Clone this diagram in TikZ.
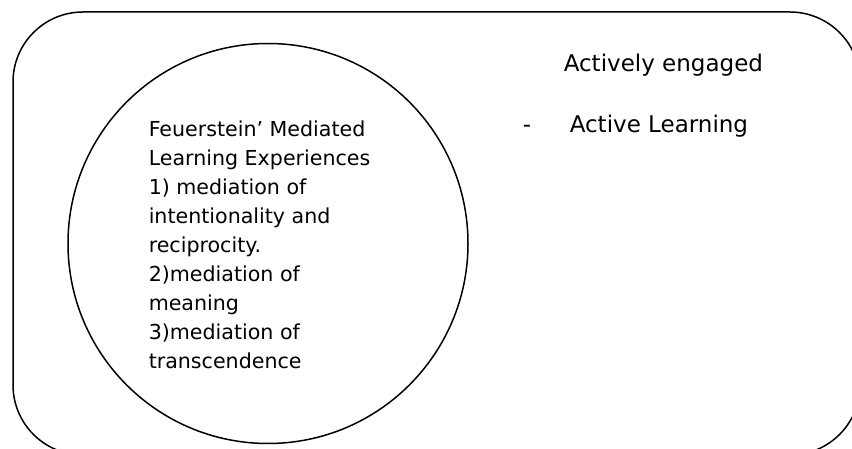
\documentclass[tikz,border=0pt]{standalone}
\usepackage{fontspec}
\setmainfont{DejaVu Sans}
\begin{document}
\begin{tikzpicture}[x=1pt,y=1pt,line width=1.5pt,
  lefttxt/.style={inner sep=0pt,font=\fontsize{20.6}{29}\selectfont},
  righttxt/.style={inner sep=0pt,font=\fontsize{23}{29}\selectfont}]
\useasboundingbox (0,0) rectangle (852,448);
% outer frame (extends past the right and bottom edges)
\draw[rounded corners=70pt] (13,436) rectangle (860,-7);
% circle
\draw (268,204.5) circle[radius=200];
\node[lefttxt,anchor=base west,align=left] (fme) at (148,80)
  {Feuerstein’ Mediated\\Learning Experiences\\1) mediation of\\intentionality and\\reciprocity.\\2)mediation of\\meaning\\3)mediation of\\transcendence};
\node[righttxt,anchor=base west] (ae) at (563,376) {Actively engaged};
\node[righttxt,anchor=base west] (dash) at (522,315) {-};
\node[righttxt,anchor=base west] (al) at (569,315) {Active Learning};
\end{tikzpicture}
\end{document}
